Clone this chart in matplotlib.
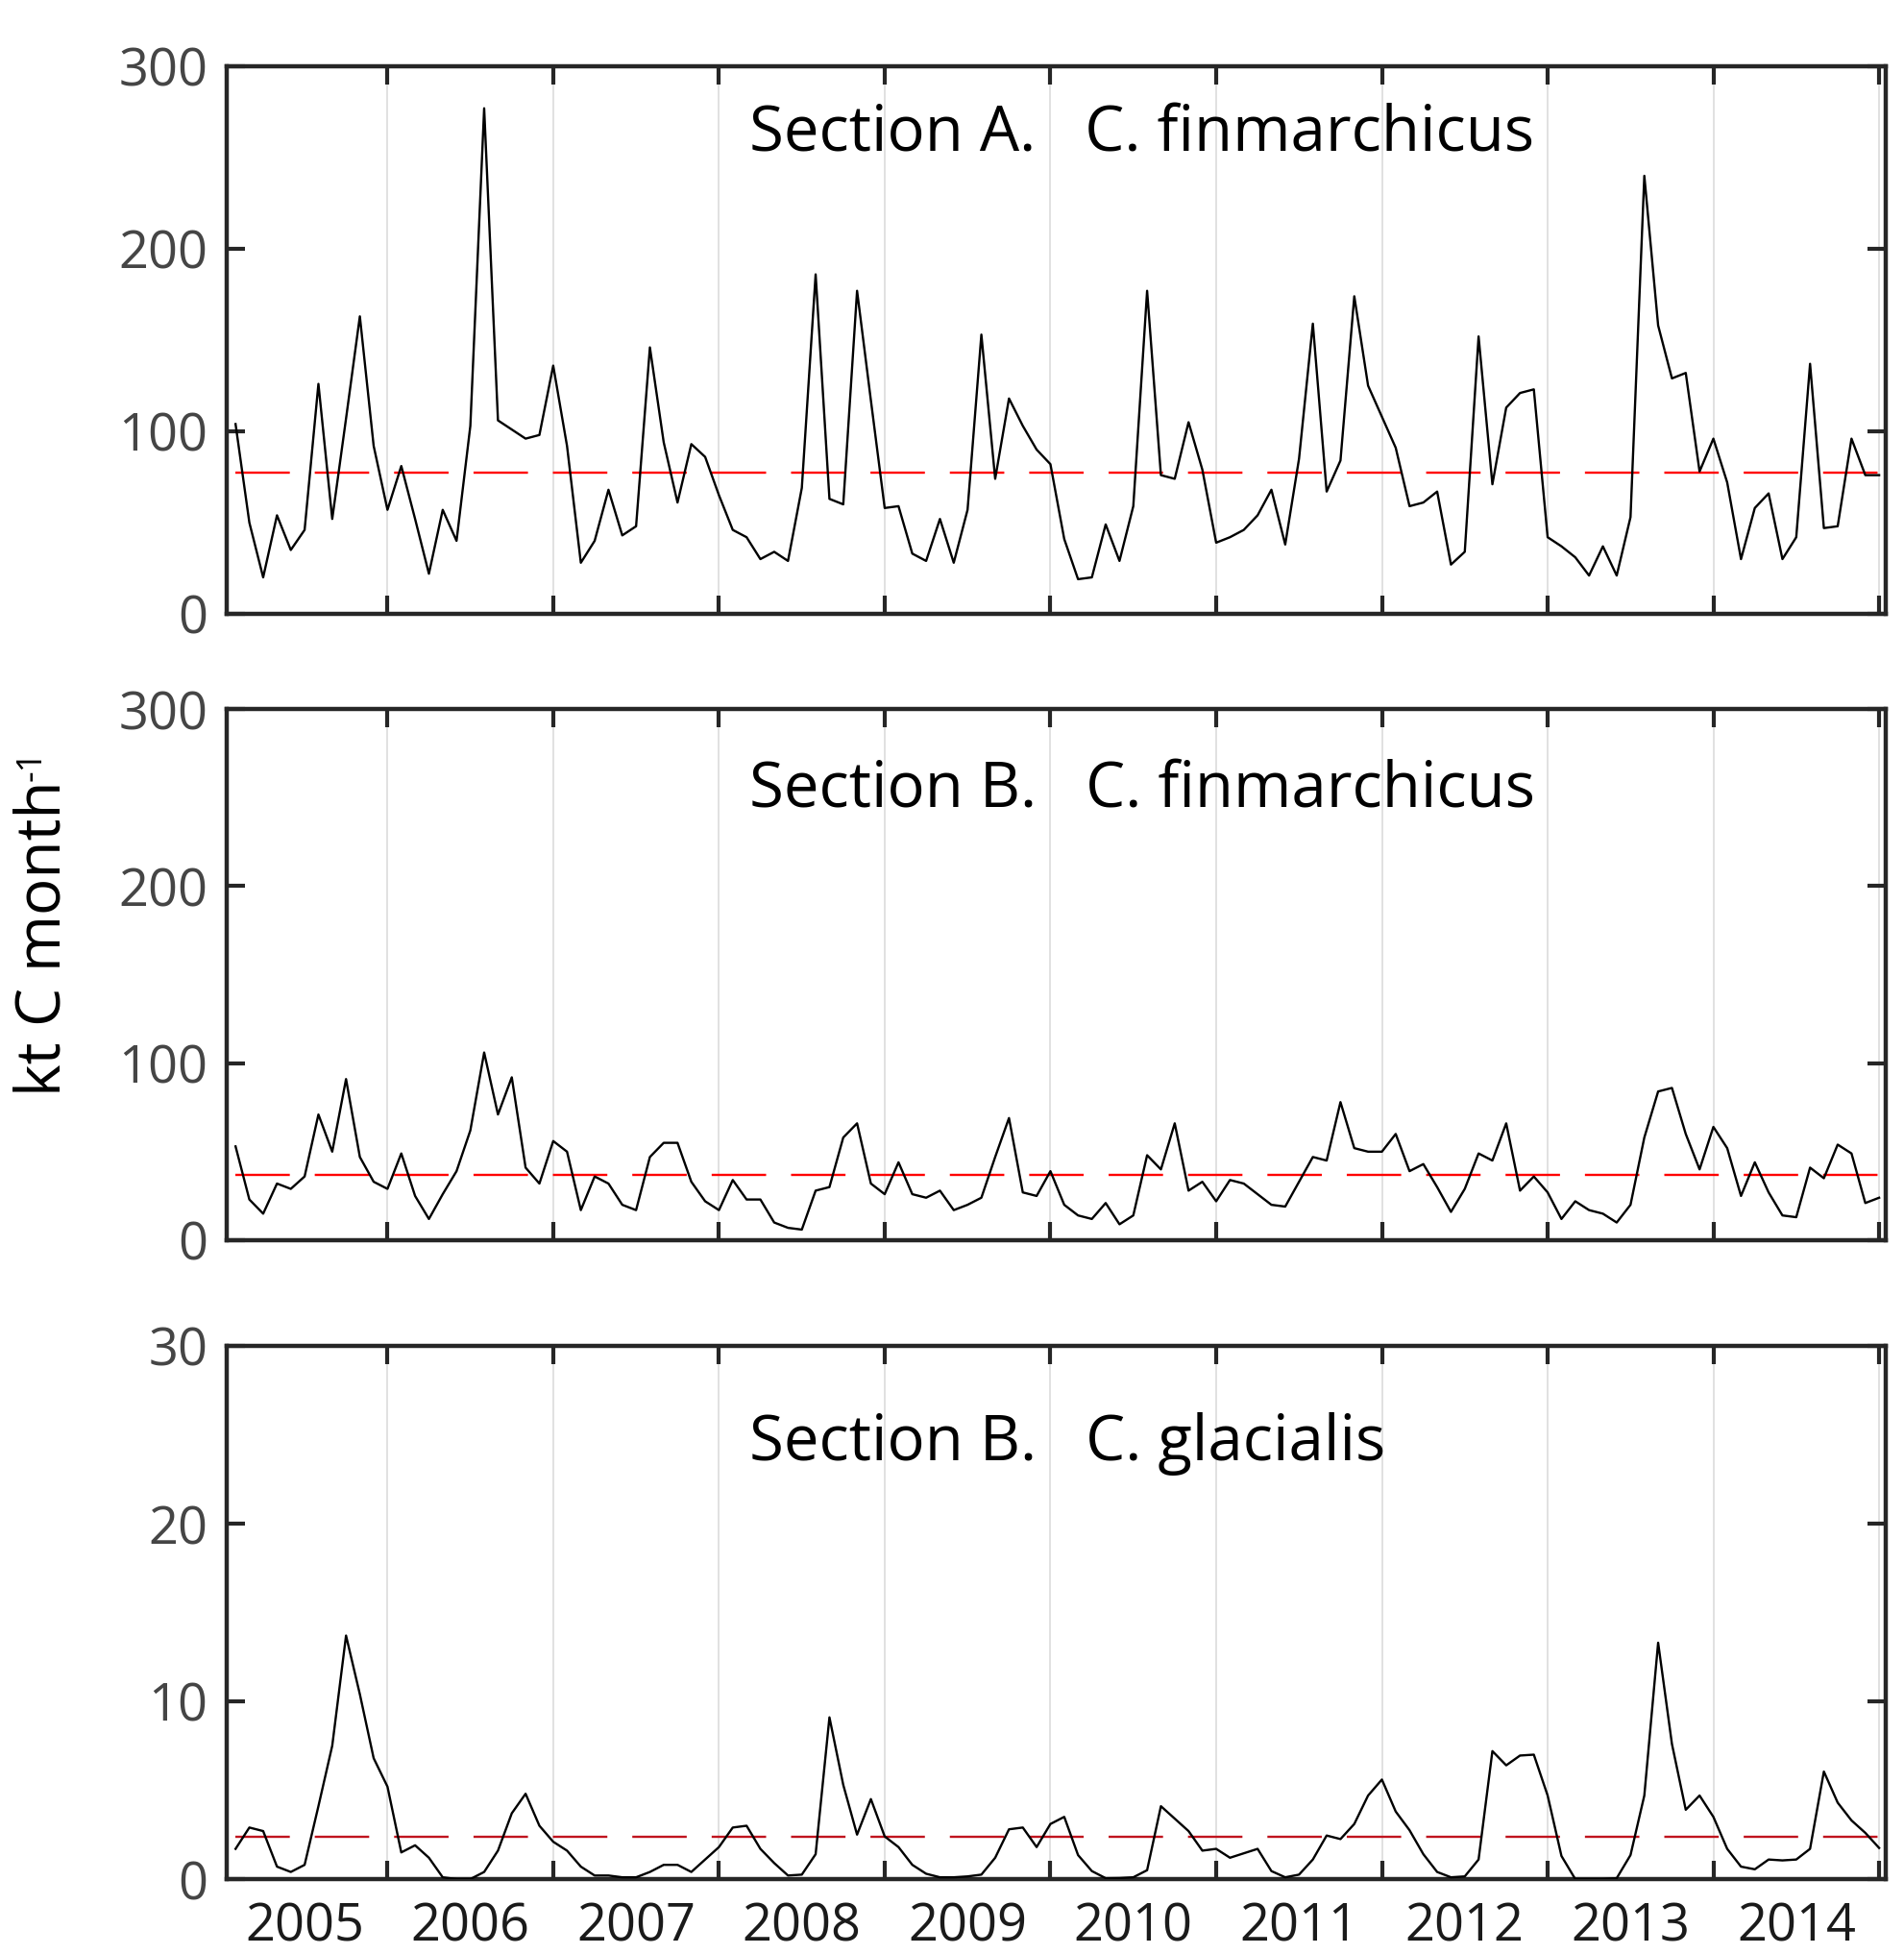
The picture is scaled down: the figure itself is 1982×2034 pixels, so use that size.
import numpy as np
import matplotlib
matplotlib.use('Agg')
from matplotlib import pyplot as plt

# -------------- data --------------------------------------------------------
# monthly values 2005-2014 (kt C month-1)
sec_a_fin = [104, 50, 20, 54, 35, 46, 126, 52, 107, 163, 92, 57,
             81, 52, 22, 57, 40, 103, 277, 106, 101, 96, 98, 136,
             92, 28, 40, 68, 43, 48, 146, 94, 61, 93, 86, 65,
             46, 42, 30, 34, 29, 69, 186, 63, 60, 177, 117, 58,
             59, 33, 29, 52, 28, 57, 153, 74, 118, 103, 90, 82,
             41, 19, 20, 49, 29, 59, 177, 76, 74, 105, 79, 39,
             42, 46, 54, 68, 38, 85, 159, 67, 84, 174, 125, 108,
             91, 59, 61, 67, 27, 34, 152, 71, 113, 121, 123, 42,
             37, 31, 21, 37, 21, 53, 240, 158, 129, 132, 78, 96,
             72, 30, 58, 66, 30, 42, 137, 47, 48, 96, 76, 76]

sec_b_fin = [53, 23, 15, 32, 29, 36, 71, 50, 91, 47, 33, 29,
             49, 25, 12, 26, 39, 62, 106, 71, 92, 41, 32, 56,
             50, 17, 36, 32, 20, 17, 47, 55, 55, 33, 22, 17,
             34, 23, 23, 10, 7, 6, 28, 30, 58, 66, 32, 26,
             44, 26, 24, 28, 17, 20, 24, 47, 69, 27, 25, 39,
             20, 14, 12, 21, 9, 14, 48, 40, 66, 28, 33, 22,
             34, 32, 26, 20, 19, 33, 47, 45, 78, 52, 50, 50,
             60, 39, 43, 30, 16, 29, 49, 45, 66, 28, 36, 27,
             12, 22, 17, 15, 10, 20, 58, 84, 86, 60, 40, 64,
             52, 25, 44, 27, 14, 13, 41, 35, 54, 49, 21, 24]

sec_b_gla = [1.7, 2.9, 2.7, 0.7, 0.4, 0.8, 4.1, 7.5, 13.7, 10.4, 6.8, 5.2,
             1.5, 1.9, 1.2, 0.1, 0.0, 0.0, 0.4, 1.6, 3.7, 4.8, 3.0, 2.1,
             1.6, 0.7, 0.2, 0.2, 0.1, 0.1, 0.4, 0.8, 0.8, 0.4, 1.1, 1.8,
             2.9, 3.0, 1.7, 0.9, 0.2, 0.25, 1.4, 9.1, 5.3, 2.5, 4.5, 2.4,
             1.8, 0.8, 0.3, 0.1, 0.1, 0.15, 0.25, 1.2, 2.8, 2.9, 1.8, 3.1,
             3.5, 1.35, 0.45, 0.05, 0.06, 0.1, 0.5, 4.1, 3.4, 2.7, 1.6, 1.7,
             1.2, 1.45, 1.7, 0.45, 0.1, 0.25, 1.1, 2.45, 2.25, 3.1, 4.7, 5.6,
             3.8, 2.75, 1.4, 0.4, 0.1, 0.15, 1.1, 7.2, 6.4, 6.95, 7.0, 4.7,
             1.3, 0.0, 0.0, 0.0, 0.05, 1.35, 4.7, 13.3, 7.6, 3.9, 4.7, 3.5,
             1.7, 0.7, 0.55, 1.1, 1.05, 1.1, 1.7, 6.05, 4.3, 3.3, 2.6, 1.75]

means = [77.5, 37, 2.4]
titles = ['Section A.   C. finmarchicus',
          'Section B.   C. finmarchicus',
          'Section B.   C. glacialis']
yticks = [[0, 100, 200, 300], [0, 100, 200, 300], [0, 10, 20, 30]]
years = list(range(2005, 2015))
# ---------------------------------------------------------------------------

plt.rcParams['font.family'] = ['Open Sans', 'DejaVu Sans']

t = 2005 + np.arange(1, 121) / 12.0  # month ends as decimal years
series = [sec_a_fin, sec_b_fin, sec_b_gla]
mean_colors = ['#ff0000', '#ff0000', '#c0141e']

W, H = 1983, 2034
fig = plt.figure(figsize=(W / 100, H / 100), dpi=100)

# panel boxes in pixels: (top, bottom)
boxes = [(69, 639), (738, 1291), (1401, 1956)]
left_px, right_px = 236, 1963
title_y = [0.877, 0.848, 0.816]

for i, (top, bot) in enumerate(boxes):
    ax = fig.add_axes([left_px / W, 1 - bot / H, (right_px - left_px) / W, (bot - top) / H])
    y = series[i]
    ax.plot(t, y, color='black', lw=1.7, zorder=3)
    ax.plot([t[0], t[-1]], [means[i], means[i]], color=mean_colors[i], lw=1.7,
            dashes=(24, 11), zorder=2)

    ax.set_xlim(2005.03, 2015.04)
    ax.set_ylim(yticks[i][0], yticks[i][-1])

    # year boundaries as major ticks + grid, labels at mid year
    ax.set_xticks(np.arange(2006, 2016))
    ax.set_xticklabels([])
    ax.set_xticks([yr + 0.5 for yr in years], minor=True)
    if i == 2:
        ax.set_xticklabels([str(yr) for yr in years], minor=True)
    else:
        ax.set_xticklabels([], minor=True)
    ax.grid(axis='x', which='major', color='#dcdcdc', lw=1.2)
    ax.set_axisbelow(True)

    ax.set_yticks(yticks[i])
    ax.tick_params(axis='both', which='major', direction='in', length=14, width=3,
                   color='#262626', top=True, right=True)
    ax.tick_params(axis='y', labelsize=39, labelcolor='#454545', pad=14)
    ax.tick_params(axis='x', which='minor', length=0, labelsize=39,
                   labelcolor='#1a1a1a', pad=16)
    for s in ax.spines.values():
        s.set_linewidth(3.2)
        s.set_color('#262626')

    ax.text(0.315, title_y[i], titles[i], transform=ax.transAxes, fontsize=47,
            ha='left', va='center', color='black')

ylab = fig.text(46 / W, 1 - 977 / H, 'kt C month', rotation=90,
                ha='center', va='center', fontsize=46, color='black')
fig.canvas.draw()
plt.annotate('-1', xy=(0.02, 1.0), xycoords=ylab, rotation=90, ha='left', va='bottom',
             fontsize=26, color='black')

fig.savefig('out.png', dpi=100)
